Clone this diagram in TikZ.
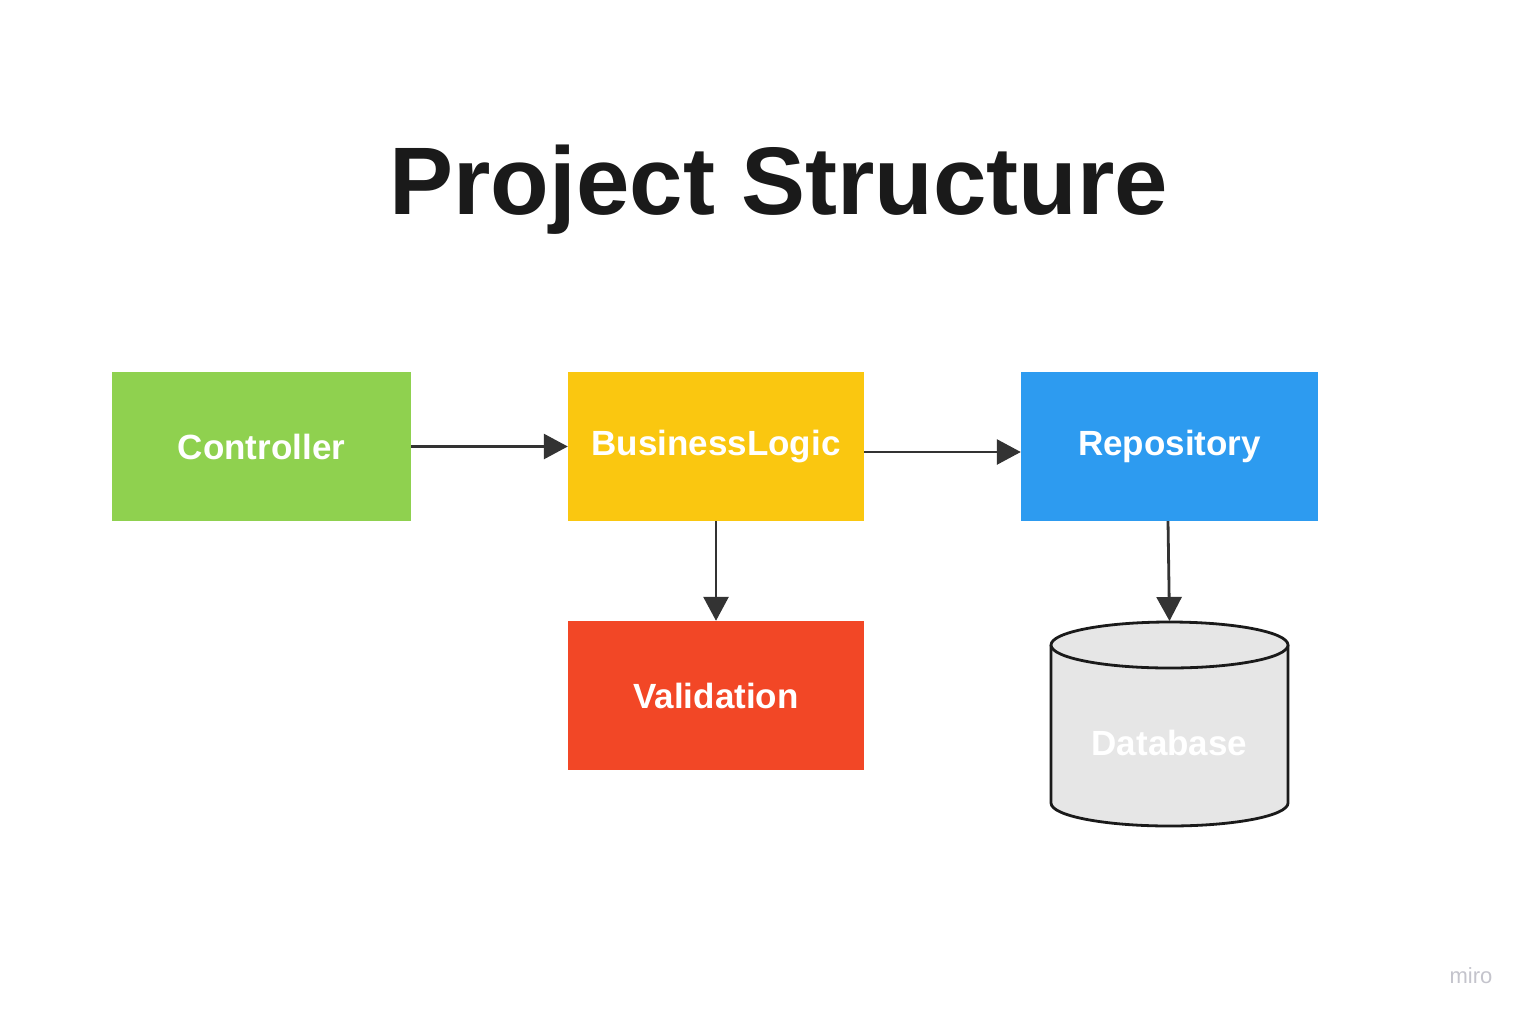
\documentclass[tikz,border=0pt]{standalone}
\usepackage{fontspec}
\setmainfont{Liberation Sans}
\usetikzlibrary{arrows.meta,calc}
\definecolor{cgreen}{HTML}{8FD14F}
\definecolor{cyellow}{HTML}{FAC710}
\definecolor{cblue}{HTML}{2D9BF0}
\definecolor{cred}{HTML}{F24726}
\definecolor{dbfill}{HTML}{E6E6E6}
\definecolor{dbline}{HTML}{1A1A1A}
\definecolor{cline}{HTML}{333333}
\definecolor{titlec}{HTML}{1A1A1A}
\definecolor{miroc}{HTML}{C4C4CC}
\begin{document}
\begin{tikzpicture}[x=1pt,y=-1pt,
  box/.style={rectangle, minimum height=149pt, inner sep=0pt, text=white,
    font=\fontsize{35}{40}\selectfont\bfseries},
  conn/.style={draw=cline, line width=2.8pt, -{Triangle[length=24pt,width=25pt]}},
  dbshape/.style={fill=dbfill, draw=dbline, line width=2.8pt}]
\useasboundingbox[fill=white] (0,0) rectangle (1530,1020);

\node[anchor=base, text=titlec, font=\fontsize{96}{110}\selectfont\bfseries] (title) at (779,214) {Project Structure};

\node[box, fill=cgreen, minimum width=299pt] (ctrl) at (261.5,446.5) {Controller};
\node[box, fill=cyellow, minimum width=296pt] (bl) at (716,446.5) {BusinessLogic};
\node[box, fill=cblue, minimum width=297pt] (repo) at (1169.5,446.5) {Repository};
\node[box, fill=cred, minimum width=296pt] (val) at (716,695.5) {Validation};

% database cylinder
\draw[dbshape] (1051,645) -- (1051,803)
  arc[start angle=180, end angle=360, x radius=118.5pt, y radius=23pt] -- (1288,645);
\draw[dbshape] (1169.5,645) ellipse [x radius=118.5pt, y radius=23pt];
\node[text=white, font=\fontsize{35}{40}\selectfont\bfseries] (db) at (1169.5,743) {Database};
\coordinate (dbtop) at (1169.5,621);

\draw[conn] (ctrl.east) -- (bl.west);
\draw[conn] ([yshift=-5.5pt]bl.east) -- ([yshift=-5.5pt]repo.west);
\draw[conn] (bl.south) -- (val.north);
\draw[conn] ([xshift=-1.5pt]repo.south) -- (dbtop);

\node[text=miroc, font=\fontsize{22}{26}\selectfont] (miro) at (1471,976) {miro};
\end{tikzpicture}
\end{document}
